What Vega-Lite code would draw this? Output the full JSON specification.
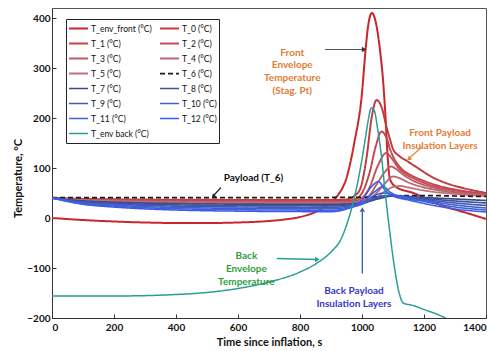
{
  "$schema": "https://vega.github.io/schema/vega-lite/v6.json",
  "width": 434,
  "height": 310,
  "autosize": "none",
  "padding": {"left": 52, "top": 8, "right": 2, "bottom": 33},
  "background": "white",
  "config": {
    "font": "Lato",
    "view": {"stroke": "#555555", "strokeWidth": 1},
    "axis": {"grid": false, "domainColor": "#333333", "tickColor": "#333333", "labelColor": "#111111", "labelFont": "Lato", "labelFontWeight": "bold", "labelFontSize": 10, "titleFont": "Lato", "titleFontWeight": "bold", "titleFontSize": 11, "titleColor": "#111111", "labelOverlap": false, "zindex": 1},
    "legend": {"orient": "none", "legendX": 14, "legendY": 11, "columns": 2, "direction": "horizontal", "padding": 2, "strokeColor": "#222222", "fillColor": "white", "labelFont": "Lato", "labelFontSize": 8.5, "labelColor": "#111111", "symbolType": "stroke", "symbolSize": 361, "symbolStrokeWidth": 1.5, "clipHeight": 15, "rowPadding": 0, "columnPadding": 7, "labelOffset": 2}
  },
  "datasets": {
    "series": [
      {"s": "T_env_front (°C)", "t": 0, "v": 0}, {"s": "T_env_front (°C)", "t": 100, "v": -4}, {"s": "T_env_front (°C)", "t": 200, "v": -7}, {"s": "T_env_front (°C)", "t": 300, "v": -9}, {"s": "T_env_front (°C)", "t": 400, "v": -10}, {"s": "T_env_front (°C)", "t": 500, "v": -10}, {"s": "T_env_front (°C)", "t": 600, "v": -9}, {"s": "T_env_front (°C)", "t": 700, "v": -6}, {"s": "T_env_front (°C)", "t": 750, "v": -3}, {"s": "T_env_front (°C)", "t": 800, "v": 2}, {"s": "T_env_front (°C)", "t": 850, "v": 12}, {"s": "T_env_front (°C)", "t": 880, "v": 22}, {"s": "T_env_front (°C)", "t": 900, "v": 32}, {"s": "T_env_front (°C)", "t": 925, "v": 48}, {"s": "T_env_front (°C)", "t": 950, "v": 80}, {"s": "T_env_front (°C)", "t": 975, "v": 150}, {"s": "T_env_front (°C)", "t": 1000, "v": 250}, {"s": "T_env_front (°C)", "t": 1012, "v": 340}, {"s": "T_env_front (°C)", "t": 1020, "v": 385}, {"s": "T_env_front (°C)", "t": 1032, "v": 410}, {"s": "T_env_front (°C)", "t": 1045, "v": 390}, {"s": "T_env_front (°C)", "t": 1058, "v": 336}, {"s": "T_env_front (°C)", "t": 1068, "v": 275}, {"s": "T_env_front (°C)", "t": 1076, "v": 200}, {"s": "T_env_front (°C)", "t": 1082, "v": 130}, {"s": "T_env_front (°C)", "t": 1090, "v": 78}, {"s": "T_env_front (°C)", "t": 1110, "v": 62}, {"s": "T_env_front (°C)", "t": 1166, "v": 50}, {"s": "T_env_front (°C)", "t": 1252, "v": 26}, {"s": "T_env_front (°C)", "t": 1338, "v": 10}, {"s": "T_env_front (°C)", "t": 1400, "v": -2},

      {"s": "T_0 (°C)", "t": 0, "v": 40}, {"s": "T_0 (°C)", "t": 100, "v": 38.2}, {"s": "T_0 (°C)", "t": 200, "v": 37.4}, {"s": "T_0 (°C)", "t": 300, "v": 36.9}, {"s": "T_0 (°C)", "t": 400, "v": 36.6}, {"s": "T_0 (°C)", "t": 500, "v": 36.4}, {"s": "T_0 (°C)", "t": 600, "v": 36.2}, {"s": "T_0 (°C)", "t": 700, "v": 36.2}, {"s": "T_0 (°C)", "t": 800, "v": 36.1}, {"s": "T_0 (°C)", "t": 900, "v": 36.1}, {"s": "T_0 (°C)", "t": 950, "v": 37}, {"s": "T_0 (°C)", "t": 975, "v": 44}, {"s": "T_0 (°C)", "t": 994, "v": 58}, {"s": "T_0 (°C)", "t": 1005, "v": 85}, {"s": "T_0 (°C)", "t": 1015, "v": 122}, {"s": "T_0 (°C)", "t": 1031, "v": 200}, {"s": "T_0 (°C)", "t": 1047, "v": 236}, {"s": "T_0 (°C)", "t": 1063, "v": 222}, {"s": "T_0 (°C)", "t": 1080, "v": 180}, {"s": "T_0 (°C)", "t": 1090, "v": 158}, {"s": "T_0 (°C)", "t": 1100, "v": 138}, {"s": "T_0 (°C)", "t": 1120, "v": 124}, {"s": "T_0 (°C)", "t": 1145, "v": 114}, {"s": "T_0 (°C)", "t": 1180, "v": 100}, {"s": "T_0 (°C)", "t": 1220, "v": 84}, {"s": "T_0 (°C)", "t": 1270, "v": 70}, {"s": "T_0 (°C)", "t": 1326, "v": 60}, {"s": "T_0 (°C)", "t": 1400, "v": 50},

      {"s": "T_1 (°C)", "t": 0, "v": 40}, {"s": "T_1 (°C)", "t": 100, "v": 37.3}, {"s": "T_1 (°C)", "t": 200, "v": 36.1}, {"s": "T_1 (°C)", "t": 300, "v": 35.3}, {"s": "T_1 (°C)", "t": 400, "v": 34.8}, {"s": "T_1 (°C)", "t": 500, "v": 34.5}, {"s": "T_1 (°C)", "t": 600, "v": 34.4}, {"s": "T_1 (°C)", "t": 700, "v": 34.2}, {"s": "T_1 (°C)", "t": 800, "v": 34.2}, {"s": "T_1 (°C)", "t": 900, "v": 34.1}, {"s": "T_1 (°C)", "t": 950, "v": 34.5}, {"s": "T_1 (°C)", "t": 975, "v": 37}, {"s": "T_1 (°C)", "t": 1000, "v": 50}, {"s": "T_1 (°C)", "t": 1025, "v": 92}, {"s": "T_1 (°C)", "t": 1045, "v": 145}, {"s": "T_1 (°C)", "t": 1063, "v": 173}, {"s": "T_1 (°C)", "t": 1078, "v": 162}, {"s": "T_1 (°C)", "t": 1092, "v": 135}, {"s": "T_1 (°C)", "t": 1110, "v": 112}, {"s": "T_1 (°C)", "t": 1130, "v": 97}, {"s": "T_1 (°C)", "t": 1160, "v": 85}, {"s": "T_1 (°C)", "t": 1200, "v": 74}, {"s": "T_1 (°C)", "t": 1250, "v": 64}, {"s": "T_1 (°C)", "t": 1300, "v": 57}, {"s": "T_1 (°C)", "t": 1350, "v": 52}, {"s": "T_1 (°C)", "t": 1400, "v": 48},

      {"s": "T_2 (°C)", "t": 0, "v": 40}, {"s": "T_2 (°C)", "t": 100, "v": 36.4}, {"s": "T_2 (°C)", "t": 200, "v": 34.8}, {"s": "T_2 (°C)", "t": 300, "v": 33.8}, {"s": "T_2 (°C)", "t": 400, "v": 33.1}, {"s": "T_2 (°C)", "t": 500, "v": 32.7}, {"s": "T_2 (°C)", "t": 600, "v": 32.5}, {"s": "T_2 (°C)", "t": 700, "v": 32.3}, {"s": "T_2 (°C)", "t": 800, "v": 32.2}, {"s": "T_2 (°C)", "t": 900, "v": 32.2}, {"s": "T_2 (°C)", "t": 950, "v": 32.5}, {"s": "T_2 (°C)", "t": 975, "v": 34}, {"s": "T_2 (°C)", "t": 1000, "v": 40}, {"s": "T_2 (°C)", "t": 1025, "v": 62}, {"s": "T_2 (°C)", "t": 1050, "v": 103}, {"s": "T_2 (°C)", "t": 1078, "v": 130}, {"s": "T_2 (°C)", "t": 1095, "v": 120}, {"s": "T_2 (°C)", "t": 1115, "v": 102}, {"s": "T_2 (°C)", "t": 1140, "v": 88}, {"s": "T_2 (°C)", "t": 1170, "v": 78}, {"s": "T_2 (°C)", "t": 1200, "v": 70}, {"s": "T_2 (°C)", "t": 1250, "v": 61}, {"s": "T_2 (°C)", "t": 1300, "v": 55}, {"s": "T_2 (°C)", "t": 1350, "v": 50}, {"s": "T_2 (°C)", "t": 1400, "v": 47},

      {"s": "T_3 (°C)", "t": 0, "v": 40}, {"s": "T_3 (°C)", "t": 100, "v": 36}, {"s": "T_3 (°C)", "t": 200, "v": 34.2}, {"s": "T_3 (°C)", "t": 300, "v": 33}, {"s": "T_3 (°C)", "t": 400, "v": 32.3}, {"s": "T_3 (°C)", "t": 500, "v": 31.8}, {"s": "T_3 (°C)", "t": 600, "v": 31.5}, {"s": "T_3 (°C)", "t": 700, "v": 31.4}, {"s": "T_3 (°C)", "t": 800, "v": 31.3}, {"s": "T_3 (°C)", "t": 900, "v": 31.2}, {"s": "T_3 (°C)", "t": 950, "v": 31.3}, {"s": "T_3 (°C)", "t": 975, "v": 32}, {"s": "T_3 (°C)", "t": 1000, "v": 35}, {"s": "T_3 (°C)", "t": 1025, "v": 46}, {"s": "T_3 (°C)", "t": 1050, "v": 70}, {"s": "T_3 (°C)", "t": 1075, "v": 93}, {"s": "T_3 (°C)", "t": 1094, "v": 103}, {"s": "T_3 (°C)", "t": 1110, "v": 98}, {"s": "T_3 (°C)", "t": 1130, "v": 88}, {"s": "T_3 (°C)", "t": 1160, "v": 76}, {"s": "T_3 (°C)", "t": 1200, "v": 66}, {"s": "T_3 (°C)", "t": 1250, "v": 58}, {"s": "T_3 (°C)", "t": 1300, "v": 52}, {"s": "T_3 (°C)", "t": 1350, "v": 48}, {"s": "T_3 (°C)", "t": 1400, "v": 46},

      {"s": "T_4 (°C)", "t": 0, "v": 40}, {"s": "T_4 (°C)", "t": 100, "v": 35.5}, {"s": "T_4 (°C)", "t": 200, "v": 33.5}, {"s": "T_4 (°C)", "t": 300, "v": 32.2}, {"s": "T_4 (°C)", "t": 400, "v": 31.4}, {"s": "T_4 (°C)", "t": 500, "v": 30.9}, {"s": "T_4 (°C)", "t": 600, "v": 30.6}, {"s": "T_4 (°C)", "t": 700, "v": 30.4}, {"s": "T_4 (°C)", "t": 800, "v": 30.3}, {"s": "T_4 (°C)", "t": 900, "v": 30.2}, {"s": "T_4 (°C)", "t": 950, "v": 30.3}, {"s": "T_4 (°C)", "t": 975, "v": 31}, {"s": "T_4 (°C)", "t": 1000, "v": 33}, {"s": "T_4 (°C)", "t": 1025, "v": 38}, {"s": "T_4 (°C)", "t": 1050, "v": 52}, {"s": "T_4 (°C)", "t": 1075, "v": 70}, {"s": "T_4 (°C)", "t": 1100, "v": 83}, {"s": "T_4 (°C)", "t": 1120, "v": 80}, {"s": "T_4 (°C)", "t": 1150, "v": 71}, {"s": "T_4 (°C)", "t": 1200, "v": 61}, {"s": "T_4 (°C)", "t": 1250, "v": 55}, {"s": "T_4 (°C)", "t": 1300, "v": 50}, {"s": "T_4 (°C)", "t": 1400, "v": 45},

      {"s": "T_5 (°C)", "t": 0, "v": 40}, {"s": "T_5 (°C)", "t": 100, "v": 35.1}, {"s": "T_5 (°C)", "t": 200, "v": 32.9}, {"s": "T_5 (°C)", "t": 300, "v": 31.4}, {"s": "T_5 (°C)", "t": 400, "v": 30.5}, {"s": "T_5 (°C)", "t": 500, "v": 30}, {"s": "T_5 (°C)", "t": 600, "v": 29.7}, {"s": "T_5 (°C)", "t": 700, "v": 29.4}, {"s": "T_5 (°C)", "t": 800, "v": 29.3}, {"s": "T_5 (°C)", "t": 900, "v": 29.2}, {"s": "T_5 (°C)", "t": 950, "v": 29.3}, {"s": "T_5 (°C)", "t": 975, "v": 30}, {"s": "T_5 (°C)", "t": 1000, "v": 31}, {"s": "T_5 (°C)", "t": 1025, "v": 34}, {"s": "T_5 (°C)", "t": 1050, "v": 42}, {"s": "T_5 (°C)", "t": 1075, "v": 54}, {"s": "T_5 (°C)", "t": 1100, "v": 62}, {"s": "T_5 (°C)", "t": 1125, "v": 64}, {"s": "T_5 (°C)", "t": 1150, "v": 61}, {"s": "T_5 (°C)", "t": 1200, "v": 55}, {"s": "T_5 (°C)", "t": 1300, "v": 48}, {"s": "T_5 (°C)", "t": 1400, "v": 44},

      {"s": "T_6 (°C)", "t": 0, "v": 41}, {"s": "T_6 (°C)", "t": 300, "v": 41}, {"s": "T_6 (°C)", "t": 600, "v": 41}, {"s": "T_6 (°C)", "t": 900, "v": 41}, {"s": "T_6 (°C)", "t": 1000, "v": 41.5}, {"s": "T_6 (°C)", "t": 1050, "v": 42.5}, {"s": "T_6 (°C)", "t": 1100, "v": 44}, {"s": "T_6 (°C)", "t": 1150, "v": 45}, {"s": "T_6 (°C)", "t": 1200, "v": 45}, {"s": "T_6 (°C)", "t": 1300, "v": 44}, {"s": "T_6 (°C)", "t": 1400, "v": 43},

      {"s": "T_7 (°C)", "t": 0, "v": 40}, {"s": "T_7 (°C)", "t": 100, "v": 34.2}, {"s": "T_7 (°C)", "t": 200, "v": 31.6}, {"s": "T_7 (°C)", "t": 300, "v": 29.9}, {"s": "T_7 (°C)", "t": 400, "v": 28.8}, {"s": "T_7 (°C)", "t": 500, "v": 28.2}, {"s": "T_7 (°C)", "t": 600, "v": 27.8}, {"s": "T_7 (°C)", "t": 700, "v": 27.5}, {"s": "T_7 (°C)", "t": 800, "v": 27.4}, {"s": "T_7 (°C)", "t": 900, "v": 27.3}, {"s": "T_7 (°C)", "t": 950, "v": 28}, {"s": "T_7 (°C)", "t": 1000, "v": 30}, {"s": "T_7 (°C)", "t": 1050, "v": 38}, {"s": "T_7 (°C)", "t": 1100, "v": 44}, {"s": "T_7 (°C)", "t": 1150, "v": 43}, {"s": "T_7 (°C)", "t": 1200, "v": 41}, {"s": "T_7 (°C)", "t": 1300, "v": 38}, {"s": "T_7 (°C)", "t": 1400, "v": 35},

      {"s": "T_8 (°C)", "t": 0, "v": 40}, {"s": "T_8 (°C)", "t": 100, "v": 32.8}, {"s": "T_8 (°C)", "t": 200, "v": 29.6}, {"s": "T_8 (°C)", "t": 300, "v": 27.5}, {"s": "T_8 (°C)", "t": 400, "v": 26.2}, {"s": "T_8 (°C)", "t": 500, "v": 25.4}, {"s": "T_8 (°C)", "t": 600, "v": 25}, {"s": "T_8 (°C)", "t": 700, "v": 24.6}, {"s": "T_8 (°C)", "t": 800, "v": 24.5}, {"s": "T_8 (°C)", "t": 900, "v": 24.3}, {"s": "T_8 (°C)", "t": 950, "v": 25.5}, {"s": "T_8 (°C)", "t": 1000, "v": 29}, {"s": "T_8 (°C)", "t": 1050, "v": 40}, {"s": "T_8 (°C)", "t": 1100, "v": 45}, {"s": "T_8 (°C)", "t": 1150, "v": 42}, {"s": "T_8 (°C)", "t": 1200, "v": 39}, {"s": "T_8 (°C)", "t": 1300, "v": 34}, {"s": "T_8 (°C)", "t": 1400, "v": 30},

      {"s": "T_9 (°C)", "t": 0, "v": 40}, {"s": "T_9 (°C)", "t": 100, "v": 31.5}, {"s": "T_9 (°C)", "t": 200, "v": 27.7}, {"s": "T_9 (°C)", "t": 300, "v": 25.2}, {"s": "T_9 (°C)", "t": 400, "v": 23.7}, {"s": "T_9 (°C)", "t": 500, "v": 22.7}, {"s": "T_9 (°C)", "t": 600, "v": 22.1}, {"s": "T_9 (°C)", "t": 700, "v": 21.8}, {"s": "T_9 (°C)", "t": 800, "v": 21.6}, {"s": "T_9 (°C)", "t": 900, "v": 21.4}, {"s": "T_9 (°C)", "t": 950, "v": 23}, {"s": "T_9 (°C)", "t": 1000, "v": 28}, {"s": "T_9 (°C)", "t": 1050, "v": 42}, {"s": "T_9 (°C)", "t": 1100, "v": 45}, {"s": "T_9 (°C)", "t": 1150, "v": 41}, {"s": "T_9 (°C)", "t": 1200, "v": 37}, {"s": "T_9 (°C)", "t": 1300, "v": 30}, {"s": "T_9 (°C)", "t": 1400, "v": 25},

      {"s": "T_10 (°C)", "t": 0, "v": 40}, {"s": "T_10 (°C)", "t": 100, "v": 30.1}, {"s": "T_10 (°C)", "t": 200, "v": 25.7}, {"s": "T_10 (°C)", "t": 300, "v": 22.8}, {"s": "T_10 (°C)", "t": 400, "v": 21.1}, {"s": "T_10 (°C)", "t": 500, "v": 20}, {"s": "T_10 (°C)", "t": 600, "v": 19.3}, {"s": "T_10 (°C)", "t": 700, "v": 18.9}, {"s": "T_10 (°C)", "t": 800, "v": 18.7}, {"s": "T_10 (°C)", "t": 900, "v": 18.4}, {"s": "T_10 (°C)", "t": 950, "v": 21}, {"s": "T_10 (°C)", "t": 1000, "v": 28}, {"s": "T_10 (°C)", "t": 1040, "v": 45}, {"s": "T_10 (°C)", "t": 1075, "v": 50}, {"s": "T_10 (°C)", "t": 1110, "v": 44}, {"s": "T_10 (°C)", "t": 1150, "v": 40}, {"s": "T_10 (°C)", "t": 1200, "v": 35}, {"s": "T_10 (°C)", "t": 1300, "v": 26}, {"s": "T_10 (°C)", "t": 1400, "v": 20},

      {"s": "T_11 (°C)", "t": 0, "v": 40}, {"s": "T_11 (°C)", "t": 100, "v": 28.8}, {"s": "T_11 (°C)", "t": 200, "v": 23.8}, {"s": "T_11 (°C)", "t": 300, "v": 20.5}, {"s": "T_11 (°C)", "t": 400, "v": 18.5}, {"s": "T_11 (°C)", "t": 500, "v": 17.3}, {"s": "T_11 (°C)", "t": 600, "v": 16.5}, {"s": "T_11 (°C)", "t": 700, "v": 16}, {"s": "T_11 (°C)", "t": 800, "v": 15.8}, {"s": "T_11 (°C)", "t": 900, "v": 15.5}, {"s": "T_11 (°C)", "t": 950, "v": 19}, {"s": "T_11 (°C)", "t": 1000, "v": 30}, {"s": "T_11 (°C)", "t": 1040, "v": 52}, {"s": "T_11 (°C)", "t": 1068, "v": 63}, {"s": "T_11 (°C)", "t": 1090, "v": 52}, {"s": "T_11 (°C)", "t": 1120, "v": 43}, {"s": "T_11 (°C)", "t": 1200, "v": 33}, {"s": "T_11 (°C)", "t": 1300, "v": 22}, {"s": "T_11 (°C)", "t": 1400, "v": 16},

      {"s": "T_12 (°C)", "t": 0, "v": 40}, {"s": "T_12 (°C)", "t": 100, "v": 27.4}, {"s": "T_12 (°C)", "t": 200, "v": 21.8}, {"s": "T_12 (°C)", "t": 300, "v": 18.2}, {"s": "T_12 (°C)", "t": 400, "v": 15.9}, {"s": "T_12 (°C)", "t": 500, "v": 14.5}, {"s": "T_12 (°C)", "t": 600, "v": 13.7}, {"s": "T_12 (°C)", "t": 700, "v": 13.1}, {"s": "T_12 (°C)", "t": 800, "v": 12.8}, {"s": "T_12 (°C)", "t": 900, "v": 12.6}, {"s": "T_12 (°C)", "t": 950, "v": 18}, {"s": "T_12 (°C)", "t": 1000, "v": 36}, {"s": "T_12 (°C)", "t": 1030, "v": 62}, {"s": "T_12 (°C)", "t": 1053, "v": 73}, {"s": "T_12 (°C)", "t": 1075, "v": 55}, {"s": "T_12 (°C)", "t": 1100, "v": 44}, {"s": "T_12 (°C)", "t": 1150, "v": 36}, {"s": "T_12 (°C)", "t": 1200, "v": 29}, {"s": "T_12 (°C)", "t": 1300, "v": 18}, {"s": "T_12 (°C)", "t": 1400, "v": 12},

      {"s": "T_env back (°C)", "t": 0, "v": -156}, {"s": "T_env back (°C)", "t": 200, "v": -156}, {"s": "T_env back (°C)", "t": 400, "v": -153}, {"s": "T_env back (°C)", "t": 500, "v": -149}, {"s": "T_env back (°C)", "t": 600, "v": -141}, {"s": "T_env back (°C)", "t": 700, "v": -128}, {"s": "T_env back (°C)", "t": 800, "v": -108}, {"s": "T_env back (°C)", "t": 850, "v": -92}, {"s": "T_env back (°C)", "t": 900, "v": -68}, {"s": "T_env back (°C)", "t": 930, "v": -45}, {"s": "T_env back (°C)", "t": 955, "v": -5}, {"s": "T_env back (°C)", "t": 975, "v": 40}, {"s": "T_env back (°C)", "t": 995, "v": 100}, {"s": "T_env back (°C)", "t": 1010, "v": 156}, {"s": "T_env back (°C)", "t": 1020, "v": 195}, {"s": "T_env back (°C)", "t": 1030, "v": 220}, {"s": "T_env back (°C)", "t": 1040, "v": 214}, {"s": "T_env back (°C)", "t": 1050, "v": 180}, {"s": "T_env back (°C)", "t": 1063, "v": 122}, {"s": "T_env back (°C)", "t": 1075, "v": 50}, {"s": "T_env back (°C)", "t": 1090, "v": -30}, {"s": "T_env back (°C)", "t": 1105, "v": -100}, {"s": "T_env back (°C)", "t": 1120, "v": -150}, {"s": "T_env back (°C)", "t": 1133, "v": -170}, {"s": "T_env back (°C)", "t": 1165, "v": -175}, {"s": "T_env back (°C)", "t": 1200, "v": -183}, {"s": "T_env back (°C)", "t": 1240, "v": -192}, {"s": "T_env back (°C)", "t": 1270, "v": -200}
    ]
  },
  "layer": [
    {
      "data": {"name": "series"},
      "mark": {"type": "line", "interpolate": "monotone", "clip": true},
      "encoding": {
        "x": {"field": "t", "type": "quantitative", "scale": {"domain": [0, 1400], "nice": false},
              "axis": {"title": "Time since inflation, s", "values": [0, 200, 400, 600, 800, 1000, 1200, 1400], "tickSize": -4, "labelPadding": 8, "titlePadding": 4, "format": "d", "labelOverlap": false, "labelFlush": true}},
        "y": {"field": "v", "type": "quantitative", "scale": {"domain": [-200, 420], "nice": false},
              "axis": {"title": "Temperature, °C", "values": [-200, -100, 0, 100, 200, 300, 400], "tickSize": -4, "labelPadding": 6, "titleX": -29, "titleY": 170, "format": "d", "labelOverlap": false, "labelFlush": false}},
        "color": {"field": "s", "type": "nominal",
                  "scale": {"domain": ["T_env_front (°C)", "T_0 (°C)", "T_1 (°C)", "T_2 (°C)", "T_3 (°C)", "T_4 (°C)", "T_5 (°C)", "T_6 (°C)", "T_7 (°C)", "T_8 (°C)", "T_9 (°C)", "T_10 (°C)", "T_11 (°C)", "T_12 (°C)", "T_env back (°C)"],
                            "range": ["#C8262C", "#C23A3E", "#C1464C", "#C05058", "#BE5C66", "#BC6672", "#C07078", "#1A1A1A", "#3C4A8A", "#3E52A0", "#3F5AB5", "#4062C8", "#3F5FDC", "#3B5BEF", "#2A9D96"]},
                  "legend": {"title": null}},
        "strokeDash": {"field": "s", "type": "nominal",
                  "scale": {"domain": ["T_env_front (°C)", "T_0 (°C)", "T_1 (°C)", "T_2 (°C)", "T_3 (°C)", "T_4 (°C)", "T_5 (°C)", "T_6 (°C)", "T_7 (°C)", "T_8 (°C)", "T_9 (°C)", "T_10 (°C)", "T_11 (°C)", "T_12 (°C)", "T_env back (°C)"],
                            "range": [[1,0],[1,0],[1,0],[1,0],[1,0],[1,0],[1,0],[5,3],[1,0],[1,0],[1,0],[1,0],[1,0],[1,0],[1,0]]},
                  "legend": {"title": null}},
        "strokeWidth": {"field": "s", "type": "nominal",
                  "scale": {"domain": ["T_env_front (°C)", "T_0 (°C)", "T_1 (°C)", "T_2 (°C)", "T_3 (°C)", "T_4 (°C)", "T_5 (°C)", "T_6 (°C)", "T_7 (°C)", "T_8 (°C)", "T_9 (°C)", "T_10 (°C)", "T_11 (°C)", "T_12 (°C)", "T_env back (°C)"],
                            "range": [2, 1.5, 1, 1, 1, 1, 1, 1.6, 1, 1, 1, 1, 1, 1, 1.5]},
                  "legend": null}
      }
    },
    {
      "data": {"values": [{}]},
      "mark": {"type": "text", "text": ["Front", "Envelope", "Temperature", "(Stag. Pt)"], "font": "Lato", "fontWeight": "bold", "fontSize": 10, "lineHeight": 12.8, "align": "center", "baseline": "middle", "color": "#E07E35"},
      "encoding": {"x": {"datum": 775, "type": "quantitative"}, "y": {"datum": 331, "type": "quantitative"}}
    },
    {
      "data": {"values": [{}]},
      "mark": {"type": "text", "text": ["Front Payload", "Insulation Layers"], "font": "Lato", "fontWeight": "bold", "fontSize": 10, "lineHeight": 13, "align": "center", "baseline": "middle", "color": "#E07E35"},
      "encoding": {"x": {"datum": 1252, "type": "quantitative"}, "y": {"datum": 170, "type": "quantitative"}}
    },
    {
      "data": {"values": [{}]},
      "mark": {"type": "text", "text": "Payload (T_6)", "font": "Lato", "fontWeight": "bold", "fontSize": 10, "align": "center", "baseline": "middle", "color": "#111111"},
      "encoding": {"x": {"datum": 650, "type": "quantitative"}, "y": {"datum": 80, "type": "quantitative"}}
    },
    {
      "data": {"values": [{}]},
      "mark": {"type": "text", "text": ["Back", "Envelope", "Temperature"], "font": "Lato", "fontWeight": "bold", "fontSize": 10, "lineHeight": 13, "align": "center", "baseline": "middle", "color": "#2E9E3A"},
      "encoding": {"x": {"datum": 627, "type": "quantitative"}, "y": {"datum": -75, "type": "quantitative"}}
    },
    {
      "data": {"values": [{}]},
      "mark": {"type": "text", "text": ["Back Payload", "Insulation Layers"], "font": "Lato", "fontWeight": "bold", "fontSize": 10, "lineHeight": 13.4, "align": "center", "baseline": "middle", "color": "#3838C8"},
      "encoding": {"x": {"datum": 974, "type": "quantitative"}, "y": {"datum": -146, "type": "quantitative"}}
    },
    {
      "data": {"values": [{}]},
      "mark": {"type": "rule", "color": "#555555", "strokeWidth": 1},
      "encoding": {"x": {"datum": 881, "type": "quantitative"}, "x2": {"datum": 1004}, "y": {"datum": 337, "type": "quantitative"}, "y2": {"datum": 337}}
    },
    {
      "data": {"values": [{}]},
      "mark": {"type": "point", "shape": "triangle-right", "filled": true, "size": 28, "color": "#333333", "opacity": 1},
      "encoding": {"x": {"datum": 1007, "type": "quantitative"}, "y": {"datum": 337, "type": "quantitative"}}
    },
    {
      "data": {"values": [{}]},
      "mark": {"type": "rule", "color": "#D98A3A", "strokeWidth": 1.2},
      "encoding": {"x": {"datum": 1193, "type": "quantitative"}, "x2": {"datum": 1155}, "y": {"datum": 142, "type": "quantitative"}, "y2": {"datum": 121}}
    },
    {
      "data": {"values": [{}]},
      "mark": {"type": "point", "shape": "triangle-up", "filled": true, "size": 28, "angle": 229, "color": "#D98A3A", "opacity": 1},
      "encoding": {"x": {"datum": 1151, "type": "quantitative"}, "y": {"datum": 118, "type": "quantitative"}}
    },
    {
      "data": {"values": [{}]},
      "mark": {"type": "rule", "color": "#222222", "strokeWidth": 1.2},
      "encoding": {"x": {"datum": 545, "type": "quantitative"}, "x2": {"datum": 523}, "y": {"datum": 61, "type": "quantitative"}, "y2": {"datum": 46}}
    },
    {
      "data": {"values": [{}]},
      "mark": {"type": "point", "shape": "triangle-up", "filled": true, "size": 24, "angle": 224, "color": "#222222", "opacity": 1},
      "encoding": {"x": {"datum": 520, "type": "quantitative"}, "y": {"datum": 43, "type": "quantitative"}}
    },
    {
      "data": {"values": [{}]},
      "mark": {"type": "rule", "color": "#2A9D96", "strokeWidth": 1.3},
      "encoding": {"x": {"datum": 725, "type": "quantitative"}, "x2": {"datum": 852}, "y": {"datum": -81, "type": "quantitative"}, "y2": {"datum": -83}}
    },
    {
      "data": {"values": [{}]},
      "mark": {"type": "point", "shape": "triangle-right", "filled": true, "size": 28, "color": "#2A9D96", "opacity": 1},
      "encoding": {"x": {"datum": 856, "type": "quantitative"}, "y": {"datum": -83, "type": "quantitative"}}
    },
    {
      "data": {"values": [{}]},
      "mark": {"type": "rule", "color": "#3A5AAA", "strokeWidth": 1.3},
      "encoding": {"x": {"datum": 1001, "type": "quantitative"}, "y": {"datum": -111, "type": "quantitative"}, "y2": {"datum": 12}}
    },
    {
      "data": {"values": [{}]},
      "mark": {"type": "point", "shape": "triangle-up", "filled": true, "size": 28, "color": "#3A5AAA", "opacity": 1},
      "encoding": {"x": {"datum": 1001, "type": "quantitative"}, "y": {"datum": 17, "type": "quantitative"}}
    }
  ]
}
